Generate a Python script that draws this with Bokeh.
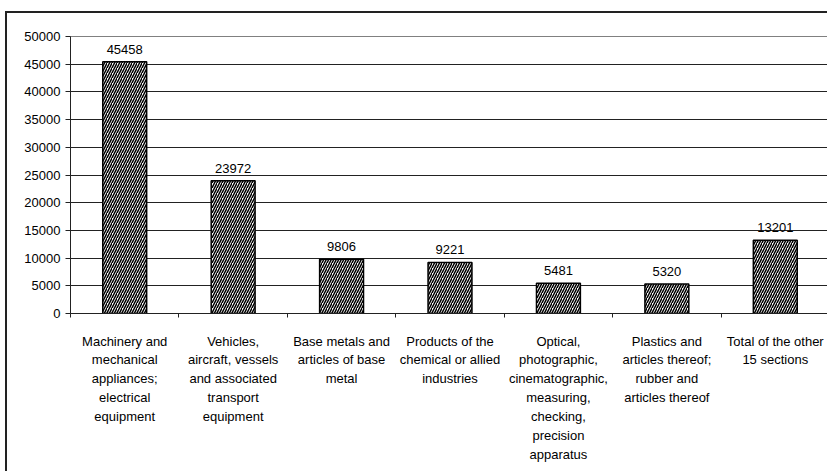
from bokeh.plotting import figure
from bokeh.models import (Range1d, LinearAxis, FixedTicker, ColumnDataSource,
                          SingleIntervalTicker)
from bokeh.core.properties import value
from bokeh.embed import file_html
from bokeh.resources import INLINE

categories = [
    "Machinery and\nmechanical\nappliances;\nelectrical\nequipment",
    "Vehicles,\naircraft, vessels\nand associated\ntransport\nequipment",
    "Base metals and\narticles of base\nmetal",
    "Products of the\nchemical or allied\nindustries",
    "Optical,\nphotographic,\ncinematographic,\nmeasuring,\nchecking,\nprecision\napparatus",
    "Plastics and\narticles thereof;\nrubber and\narticles thereof",
    "Total of the other\n15 sections",
]
values = [45458, 23972, 9806, 9221, 5481, 5320, 13201]
labels = [str(v) for v in values]

FONT = "Liberation Sans"
n = len(categories)
centers = [i + 0.5 for i in range(n)]

src = ColumnDataSource(dict(x=centers, val=values, lab=labels))

p = figure(width=822, height=460, output_backend="svg", toolbar_location=None,
           x_range=Range1d(0, n), y_range=Range1d(0, 50000),
           x_axis_location=None,
           min_border_left=63, min_border_right=0, min_border_top=23,
           min_border_bottom=160)
p.styles = {"border-left": "2px solid #222", "border-top": "2px solid #222",
            "margin-top": "11px", "margin-left": "5px"}

p.vbar(x="x", top="val", width=0.405, source=src, fill_color="white",
       line_color="black", line_width=1.5, hatch_pattern="right_diagonal_line",
       hatch_color="black", hatch_scale=5, hatch_weight=1.5)

p.text(x="x", y="val", text="lab", source=src, text_align="center",
       text_baseline="bottom", y_offset=-8, text_font=value(FONT),
       text_font_size="13px", text_color="black")

# y axis
ya = p.yaxis[0]
ya.ticker = SingleIntervalTicker(interval=5000)
ya.minor_tick_line_color = None
ya.major_tick_out = 5
ya.major_tick_in = 0
ya.major_label_standoff = 5
ya.major_label_text_font = FONT
ya.major_label_text_font_size = "13px"
ya.major_label_text_color = "black"
ya.axis_line_color = "#222"
ya.major_tick_line_color = "#222"

# boundary tick axis
ba = LinearAxis(ticker=FixedTicker(ticks=list(range(n + 1))))
ba.major_label_text_font_size = "1px"
ba.major_label_text_alpha = 0
ba.major_label_standoff = 0
ba.minor_tick_line_color = None
ba.major_tick_out = 4
ba.major_tick_in = 0
ba.axis_line_color = "#222"
ba.major_tick_line_color = "#222"
p.add_layout(ba, "below")

# category label axis
ca = LinearAxis(ticker=FixedTicker(ticks=centers),
                major_label_overrides={c: t for c, t in zip(centers, categories)})
ca.axis_line_color = None
ca.major_tick_line_color = None
ca.minor_tick_line_color = None
ca.major_label_standoff = 10
ca.major_label_text_font = FONT
ca.major_label_text_font_size = "13px"
ca.major_label_text_line_height = 1.26
ca.major_label_text_color = "black"
ca.major_label_orientation = "horizontal"
p.add_layout(ca, "below")

p.xgrid.grid_line_color = None
p.ygrid.grid_line_color = "#222"
p.ygrid.grid_line_width = 1
p.outline_line_color = "#808080"
p.outline_line_width = 1
p.background_fill_color = "white"
p.border_fill_color = "white"

open("out.html", "w").write(file_html(p, INLINE))
